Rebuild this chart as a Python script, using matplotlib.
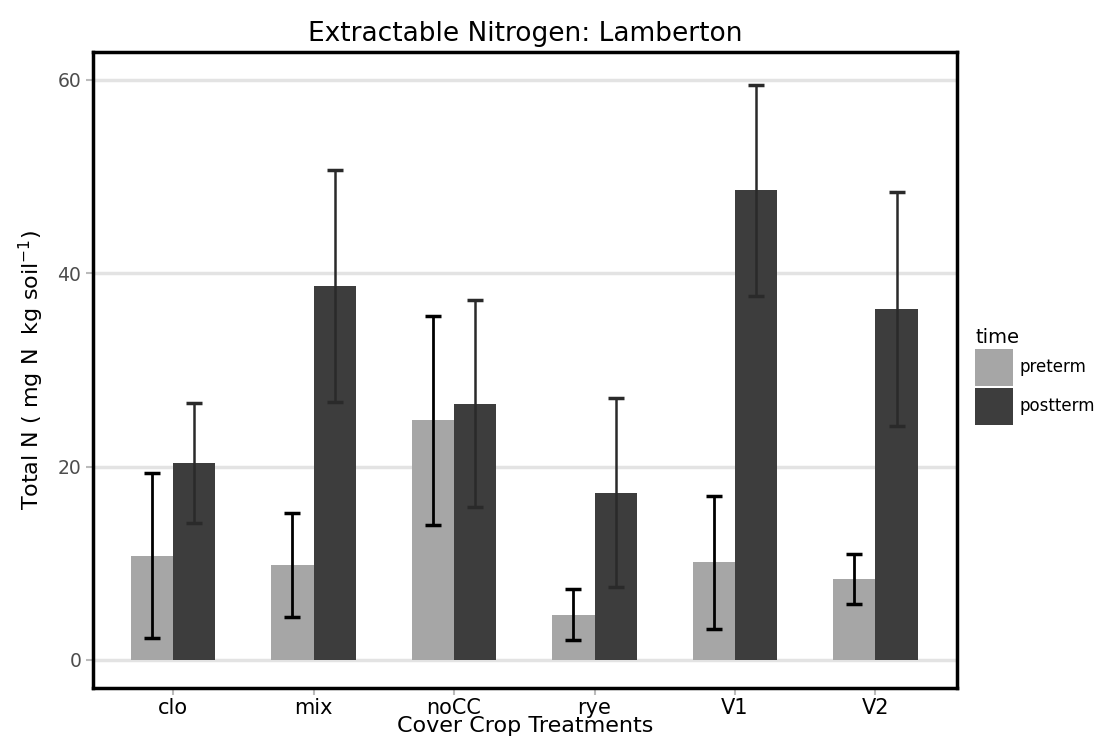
import matplotlib
matplotlib.use("Agg")
import matplotlib.pyplot as plt
import numpy as np
from matplotlib.patches import Patch

treatments = ["clo", "mix", "noCC", "rye", "V1", "V2"]
times = ["preterm", "postterm"]
pre_mean = [10.8, 9.8, 24.8, 4.7, 10.1, 8.4]
pre_se = [8.5, 5.4, 10.8, 2.6, 6.9, 2.6]
post_mean = [20.4, 38.7, 26.5, 17.3, 48.6, 36.3]
post_se = [6.2, 12.0, 10.7, 9.8, 10.9, 12.1]

bar_colors = ["#A6A6A6", "#3D3D3D"]

fig = plt.figure(figsize=(11.02, 7.51), dpi=100)
ax = fig.add_axes([0.0844, 0.0839, 0.784, 0.847])

x = np.arange(1, len(treatments) + 1)
w = 0.3
pos_pre = x - w / 2
pos_post = x + w / 2

ax.bar(pos_pre, pre_mean, width=w, color=bar_colors[0], zorder=2)
ax.bar(pos_post, post_mean, width=w, color=bar_colors[1], zorder=2)
ax.errorbar(pos_pre, pre_mean, yerr=pre_se, fmt="none", ecolor="black",
            elinewidth=2, capsize=6, capthick=2.5, zorder=3)
ax.errorbar(pos_post, post_mean, yerr=post_se, fmt="none", ecolor="#2a2a2a",
            elinewidth=1.8, capsize=6, capthick=2.5, zorder=3)

ax.set_xlim(0.43, 6.58)
ax.set_ylim(-2.9, 62.9)
ax.set_yticks([0, 20, 40, 60])
ax.set_xticks(x)
ax.set_xticklabels(treatments, fontsize=15, color="black")
ax.tick_params(axis="y", labelsize=13.5, labelcolor="#4D4D4D", color="#BBBBBB",
               length=5, width=1.5)
ax.tick_params(axis="x", color="#BBBBBB", length=5, width=1.5, pad=2)
ax.grid(axis="y", color="#E3E3E3", linewidth=2.5, zorder=0)
ax.set_axisbelow(True)
for s in ax.spines.values():
    s.set_color("black")
    s.set_linewidth(2.5)

ax.set_title("Extractable Nitrogen: Lamberton", fontsize=19, pad=8)
ax.set_xlabel("Cover Crop Treatments", fontsize=16, labelpad=-1)
ax.set_ylabel("Total N ( mg N  kg soil$^{-1}$)", fontsize=16, labelpad=8)

handles = [Patch(facecolor=c, edgecolor="none") for c in bar_colors]
leg = fig.legend(handles, times, title="time", loc="upper left",
                 bbox_to_anchor=(0.885, 0.563), frameon=False, fontsize=12,
                 title_fontsize=14, handlelength=2.25, handleheight=3.1,
                 handletextpad=0.4, labelspacing=0.08, borderpad=0.0,
                 borderaxespad=0.0)
leg._legend_box.align = "left"

fig.savefig("out.png", dpi=100)
